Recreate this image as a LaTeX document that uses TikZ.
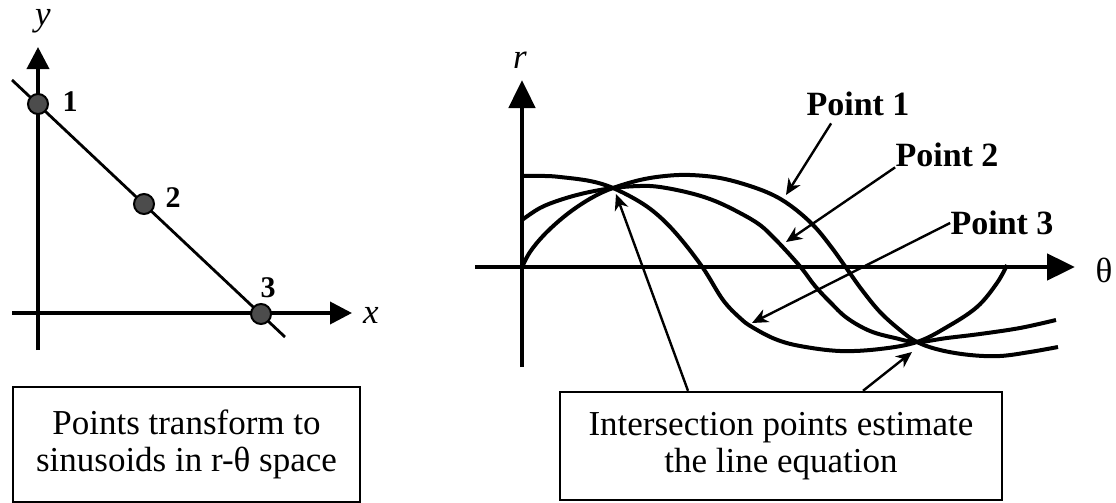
\documentclass[tikz,border=0pt]{standalone}
\usepackage{fontspec}
\setmainfont{Liberation Serif}
\usetikzlibrary{arrows.meta}

\begin{document}
\begin{tikzpicture}[x=0.5pt,y=-0.5pt,
    axis/.style={line width=2.4pt,-{Triangle[length=14pt,width=13pt]}},
    smallaxis/.style={line width=1.9pt,-{Triangle[length=11pt,width=11pt]}},
    curve/.style={line width=2pt,smooth,tension=0.6},
    ptr/.style={line width=1.2pt,-{Stealth[length=8pt,width=7pt,inset=2.5pt]}},
    dot/.style={circle,draw,line width=1pt,fill=black!70,minimum size=10pt,inner sep=0pt},
    num/.style={font=\fontsize{15}{17}\selectfont\bfseries,inner sep=0pt},
    lbl/.style={font=\fontsize{17}{19}\selectfont\bfseries,inner sep=0pt},
    var/.style={font=\fontsize{17.5}{19}\selectfont\itshape,inner sep=0pt},
    capbox/.style={draw,line width=1.2pt,align=center,font=\fontsize{17.5}{18.5}\selectfont}]
\useasboundingbox (0,0) rectangle (1116,503);

% x-y space: three points on one line
\draw[smallaxis] (38,350) -- (38,47);
\draw[smallaxis] (12,313) -- (352,313);
\node[var] (ylab) at (43,21) {y};
\node[var] (xlab) at (371,315) {x};
\coordinate (la) at (12,80);
\coordinate (lb) at (285,337);
\draw[line width=1.4pt] (la) -- (lb);
\node[dot] (d1) at (38,104) {};
\node[dot] (d2) at (144,204) {};
\node[dot] (d3) at (261,314) {};
\node[num] (n1) at (70,102) {1};
\node[num] (n2) at (173,198) {2};
\node[num] (n3) at (268,288) {3};

% r-theta space
\draw[axis] (522,367) -- (522,80);
\draw[axis] (475,267) -- (1075,267);
\node[var] (rlab) at (520,60) {r};
\node[font=\fontsize{17.5}{19}\selectfont,inner sep=0pt] (tlab) at (1104,270) {θ};

% sinusoid of point 1
\draw[curve] plot coordinates {(522,267) (530,252) (543,236) (560,220) (577,207)
  (595,196) (613,188) (640,180) (665,176) (690,175) (720,178) (750,186) (775,196)
  (795,209) (815,227) (832,248) (847,269) (862,290) (880,312) (900,330) (917,342)
  (940,350) (970,355) (1000,356) (1030,352) (1058,347)};
% sinusoid of point 2
\draw[curve] plot coordinates {(522,220) (540,208) (560,200) (585,193) (613,188)
  (640,186) (660,187) (690,193) (715,201) (740,213) (760,225) (775,239) (790,255)
  (803,270) (815,286) (830,302) (847,318) (870,331) (895,338) (917,342) (947,338)
  (980,334) (1020,328) (1056,320)};
% sinusoid of point 3
\draw[curve] plot coordinates {(522,176) (545,176) (560,177) (590,181) (613,188)
  (640,202) (660,217) (680,238) (703,268) (723,300) (740,318) (752,327) (775,339)
  (800,346) (840,351) (880,349) (917,342) (947,327) (977,307) (997,283) (1007,265)};

\coordinate (P) at (616,194);
\coordinate (Q) at (912,352);
\coordinate (t1) at (786,195);
\coordinate (t2) at (786,242);
\coordinate (t3) at (752,323);

\node[lbl] (p1lab) at (858,104) {Point 1};
\node[lbl] (p2lab) at (947,155) {Point 2};
\node[lbl] (p3lab) at (1002,223) {Point 3};
\draw[ptr] ([shift={(12.5pt,-3.5pt)}]p1lab.south west) -- (t1);
\draw[ptr] (p2lab.south west) -- (t2);
\draw[ptr] (p3lab.west) -- (t3);

% captions
\node[capbox,minimum width=173.5pt,minimum height=57.5pt] (tbox) at (186.5,444.5)
  {Points transform to\\sinusoids in r-θ space};
\node[capbox,minimum width=221pt,minimum height=54pt] (ibox) at (781,446)
  {Intersection points estimate\\the line equation};
\draw[ptr] ([xshift=-46.5pt]ibox.north) -- (P);
\draw[ptr] ([xshift=41pt]ibox.north) -- (Q);
\end{tikzpicture}
\end{document}
